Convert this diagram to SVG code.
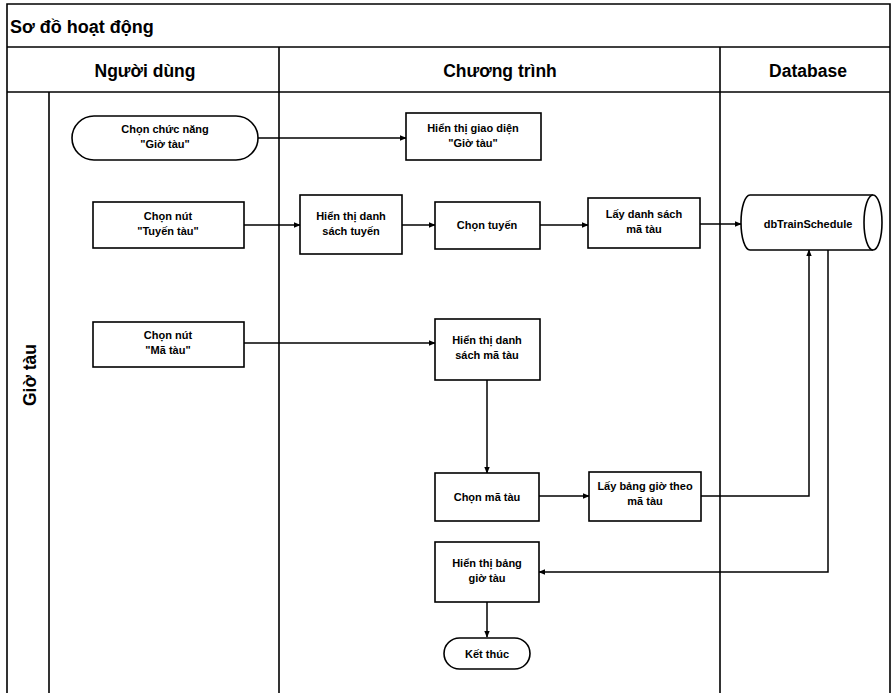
<svg xmlns="http://www.w3.org/2000/svg" width="891" height="693" viewBox="0 0 891 693">
  <style>
    .grid { stroke: #000; stroke-width: 1.6; fill: none; }
    .node { fill: #fff; stroke: #000; stroke-width: 1.6; }
    .lbl { font-family: "Liberation Sans", Arial, sans-serif; font-size: 11px; font-weight: bold; fill: #000; text-anchor: middle; }
    .hdr { font-family: "Liberation Sans", Arial, sans-serif; font-size: 17.5px; font-weight: bold; fill: #000; text-anchor: middle; }
    .title { font-family: "Liberation Sans", Arial, sans-serif; font-size: 18px; font-weight: bold; fill: #000; }
    .edge { stroke: #000; stroke-width: 1.5; fill: none; marker-end: url(#arrow); }
  </style>
  <defs>
    <marker id="arrow" viewBox="0 0 10 10" refX="9" refY="5" markerWidth="7" markerHeight="7" markerUnits="userSpaceOnUse" orient="auto">
      <path d="M0,1 L10,5 L0,9 Z" fill="#000"/>
    </marker>
  </defs>
  <rect width="891" height="693" fill="#fff"/>

  <!-- swimlane frame -->
  <g id="frame">
    <path class="grid" d="M7,693 V4 H890 V693"/>
    <line class="grid" x1="7" y1="47" x2="890" y2="47"/>
    <line class="grid" x1="7" y1="92" x2="890" y2="92"/>
    <line class="grid" x1="49" y1="92" x2="49" y2="693"/>
    <line class="grid" x1="279" y1="47" x2="279" y2="693"/>
    <line class="grid" x1="720" y1="47" x2="720" y2="693"/>
    <text class="title" x="10" y="33">Sơ đồ hoạt động</text>
    <text class="hdr" x="145" y="77">Người dùng</text>
    <text class="hdr" x="500" y="77">Chương trình</text>
    <text class="hdr" x="808" y="77">Database</text>
    <text class="hdr" transform="translate(36,375) rotate(-90)">Giờ tàu</text>
  </g>

  <!-- connectors -->
  <g id="connectors">
    <line class="edge" x1="258" y1="138" x2="406" y2="138"/>
    <line class="edge" x1="244" y1="225" x2="300" y2="225"/>
    <line class="edge" x1="402" y1="225" x2="435" y2="225"/>
    <line class="edge" x1="540" y1="225" x2="588" y2="225"/>
    <line class="edge" x1="700" y1="224" x2="741" y2="224"/>
    <line class="edge" x1="244" y1="343" x2="435" y2="343"/>
    <line class="edge" x1="487" y1="380" x2="487" y2="473"/>
    <line class="edge" x1="539" y1="496" x2="589" y2="496"/>
    <polyline class="edge" points="701,496 809,496 809,250"/>
    <polyline class="edge" points="828,250 828,572 539,572"/>
    <line class="edge" x1="487" y1="602" x2="487" y2="637"/>
  </g>

  <!-- nodes -->
  <g id="n-chon-chuc-nang">
    <rect class="node" x="72" y="116" width="186" height="44" rx="22" ry="22"/>
    <text class="lbl" x="165" y="133">Chọn chức năng</text>
    <text class="lbl" x="165" y="148">"Giờ tàu"</text>
  </g>
  <g id="n-hien-thi-giao-dien">
    <rect class="node" x="406" y="113" width="135" height="47"/>
    <text class="lbl" x="473" y="132">Hiển thị giao diện</text>
    <text class="lbl" x="473" y="147">"Giờ tàu"</text>
  </g>
  <g id="n-chon-nut-tuyen">
    <rect class="node" x="93" y="202" width="151" height="46"/>
    <text class="lbl" x="168" y="220">Chọn nút</text>
    <text class="lbl" x="168" y="235">"Tuyến tàu"</text>
  </g>
  <g id="n-ds-tuyen">
    <rect class="node" x="300" y="195" width="102" height="59"/>
    <text class="lbl" x="351" y="220">Hiển thị danh</text>
    <text class="lbl" x="351" y="235">sách tuyến</text>
  </g>
  <g id="n-chon-tuyen">
    <rect class="node" x="435" y="202" width="105" height="47"/>
    <text class="lbl" x="487" y="229">Chọn tuyến</text>
  </g>
  <g id="n-lay-ds-ma-tau">
    <rect class="node" x="588" y="198" width="112" height="50"/>
    <text class="lbl" x="644" y="218">Lấy danh sách</text>
    <text class="lbl" x="644" y="233">mã tàu</text>
  </g>
  <g id="n-db">
    <path class="node" d="M750,195 H873 A9,27.5 0 0 1 873,250 H750 A9,27.5 0 0 1 750,195 Z"/>
    <path class="node" fill="none" d="M873,195 A9,27.5 0 0 0 873,250"/>
    <text class="lbl" x="808" y="228">dbTrainSchedule</text>
  </g>
  <g id="n-chon-nut-ma">
    <rect class="node" x="93" y="322" width="151" height="45"/>
    <text class="lbl" x="168" y="339">Chọn nút</text>
    <text class="lbl" x="168" y="354">"Mã tàu"</text>
  </g>
  <g id="n-ds-ma-tau">
    <rect class="node" x="435" y="319" width="105" height="61"/>
    <text class="lbl" x="487" y="344">Hiển thị danh</text>
    <text class="lbl" x="487" y="359">sách mã tàu</text>
  </g>
  <g id="n-chon-ma-tau">
    <rect class="node" x="435" y="473" width="104" height="48"/>
    <text class="lbl" x="487" y="501">Chọn mã tàu</text>
  </g>
  <g id="n-lay-bang-gio">
    <rect class="node" x="589" y="472" width="112" height="49"/>
    <text class="lbl" x="645" y="490">Lấy bảng giờ theo</text>
    <text class="lbl" x="645" y="505">mã tàu</text>
  </g>
  <g id="n-bang-gio">
    <rect class="node" x="435" y="542" width="104" height="60"/>
    <text class="lbl" x="487" y="567">Hiển thị bảng</text>
    <text class="lbl" x="487" y="582">giờ tàu</text>
  </g>
  <g id="n-ket-thuc">
    <rect class="node" x="444" y="638" width="86" height="31" rx="15.5" ry="15.5"/>
    <text class="lbl" x="487" y="658">Kết thúc</text>
  </g>
</svg>
